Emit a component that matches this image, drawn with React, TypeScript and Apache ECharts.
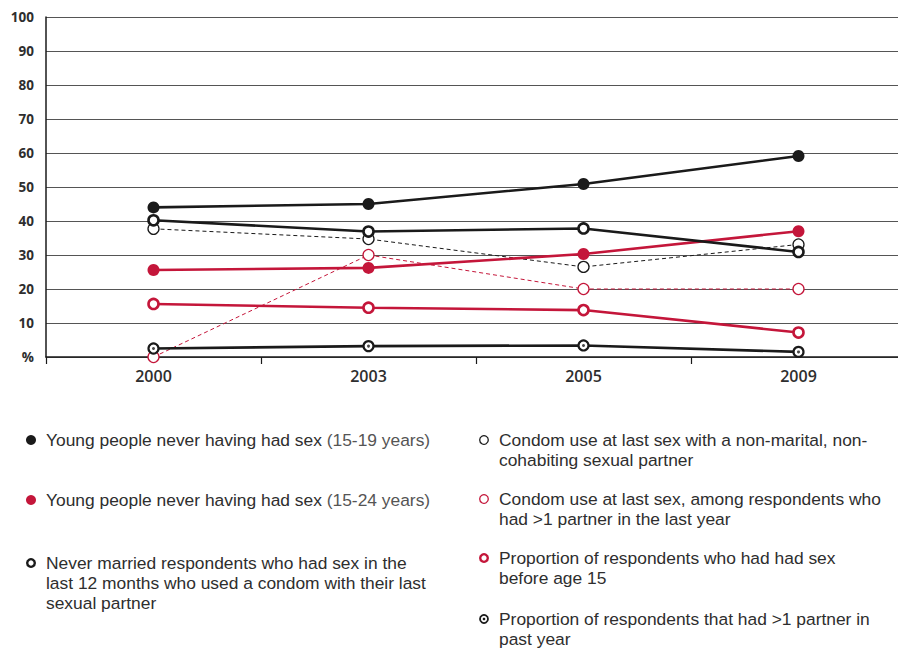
import React, { useEffect, useRef } from "react";
import * as echarts from "echarts";

const years = ["2000", "2003", "2005", "2009"];
const yTicks = ["%", "10", "20", "30", "40", "50", "60", "70", "80", "90", "100"];

const neverSex1519 = [44, 45, 50.9, 59.1];
const neverSex1524 = [25.6, 26.2, 30.3, 37];
const neverMarriedCondom = [40.2, 36.9, 37.8, 30.9];
const condomNonMarital = [37.7, 34.7, 26.5, 33.1];
const condomMultiPartner = [0, 30, 20, 20];
const sexBefore15 = [15.6, 14.5, 13.8, 7.2];
const multiPartner = [2.5, 3.2, 3.4, 1.5];

const legendLeft = [
  { lines: ["Young people never having had sex {b|(15-19 years)}"], marker: "filledBlack" },
  { lines: ["Young people never having had sex {b|(15-24 years)}"], marker: "filledRed" },
  {
    lines: [
      "Never married respondents who had sex in the",
      "last 12 months who used a condom with their last",
      "sexual partner",
    ],
    marker: "openBlackThick",
  },
];
const legendRight = [
  { lines: ["Condom use at last sex with a non-marital, non-", "cohabiting sexual partner"], marker: "openBlackThin" },
  { lines: ["Condom use at last sex, among respondents who", "had >1 partner in the last year"], marker: "openRedThin" },
  { lines: ["Proportion of respondents who had had sex", "before age 15"], marker: "openRedThick" },
  { lines: ["Proportion of respondents that had >1 partner in", "past year"], marker: "dotBlack" },
];

const BLACK = "#1a1a1a";
const RED = "#c4163a";
const TEXT = "#2e2e2e";

function markerGraphic(kind: string, x: number, y: number): any[] {
  switch (kind) {
    case "filledBlack":
      return [{ type: "circle", shape: { cx: x, cy: y, r: 5 }, style: { fill: BLACK } }];
    case "filledRed":
      return [{ type: "circle", shape: { cx: x, cy: y, r: 5 }, style: { fill: RED } }];
    case "openBlackThick":
      return [{ type: "circle", shape: { cx: x, cy: y, r: 3.8 }, style: { fill: "#fff", stroke: BLACK, lineWidth: 2.4 } }];
    case "openBlackThin":
      return [{ type: "circle", shape: { cx: x, cy: y, r: 4.3 }, style: { fill: "#fff", stroke: BLACK, lineWidth: 1.3 } }];
    case "openRedThin":
      return [{ type: "circle", shape: { cx: x, cy: y, r: 4.3 }, style: { fill: "#fff", stroke: RED, lineWidth: 1.3 } }];
    case "openRedThick":
      return [{ type: "circle", shape: { cx: x, cy: y, r: 3.8 }, style: { fill: "#fff", stroke: RED, lineWidth: 2.4 } }];
    case "dotBlack":
      return [
        { type: "circle", shape: { cx: x, cy: y, r: 4 }, style: { fill: "#fff", stroke: BLACK, lineWidth: 1.8 } },
        { type: "circle", shape: { cx: x, cy: y, r: 1.3 }, style: { fill: BLACK } },
      ];
  }
  return [];
}

function buildLegend(): any[] {
  const out: any[] = [];
  const lineH = 20;
  const font = { fontFamily: "Liberation Sans", fontSize: 17.4, lineHeight: lineH };
  const leftRows = [440, 500, 563];
  const rightRows = [440, 499, 558, 619];
  const place = (items: any[], rows: number[], mx: number, tx: number) => {
    items.forEach((it, i) => {
      const y0 = rows[i];
      out.push(...markerGraphic(it.marker, mx, y0));
      out.push({
        type: "text",
        x: tx,
        y: y0 - lineH / 2,
        style: {
          text: it.lines.join("\n"),
          ...font,
          fill: TEXT,
          verticalAlign: "top",
          rich: { b: { ...font, fill: "#555" } },
        },
      });
    });
  };
  place(legendLeft, leftRows, 31, 46);
  place(legendRight, rightRows, 484, 499);
  return out;
}

const lineSeries = (name: string, data: number[], color: string, opts: any) => ({
  name,
  type: "line",
  data,
  symbol: opts.symbol,
  symbolSize: opts.symbolSize,
  lineStyle: { color, width: opts.width, type: opts.dash ? [4, 3] : "solid" },
  itemStyle: {
    color: opts.fill ?? color,
    borderColor: color,
    borderWidth: opts.borderWidth ?? 0,
  },
  z: opts.z ?? 2,
});

export default function App() {
  const ref = useRef<HTMLDivElement>(null);
  useEffect(() => {
    if (!ref.current) return;
    const chart = echarts.init(ref.current, null, { renderer: "svg" });
    chart.setOption({
      animation: false,
      backgroundColor: "#fff",
      grid: { left: 46, right: 0, top: 17, bottom: 293, containLabel: false },
      xAxis: {
        type: "category",
        data: years,
        boundaryGap: true,
        axisLine: { show: true, lineStyle: { color: BLACK, width: 1.5 } },
        axisTick: { show: true, length: 7, lineStyle: { color: BLACK, width: 1.2 } },
        axisLabel: { color: TEXT, fontFamily: "Open Sans", fontWeight: 600, fontSize: 16, margin: 11 },
      },
      yAxis: {
        type: "value",
        min: 0,
        max: 100,
        interval: 10,
        axisLine: { show: true, lineStyle: { color: BLACK, width: 1.5 } },
        axisTick: { show: false },
        splitLine: { show: true, lineStyle: { color: "#555", width: 1.2 } },
        axisLabel: {
          color: TEXT,
          fontFamily: "Open Sans",
          fontWeight: "bold",
          fontSize: 13.5,
          margin: 12,
          formatter: (v: number) => yTicks[Math.round(v / 10)],
        },
      },
      series: [
        lineSeries("Condom use at last sex with a non-marital, non-cohabiting sexual partner", condomNonMarital, BLACK, {
          symbol: "circle", symbolSize: 11, width: 1, dash: true, fill: "#fff", borderWidth: 1.3, z: 2,
        }),
        lineSeries("Condom use at last sex, among respondents who had >1 partner in the last year", condomMultiPartner, RED, {
          symbol: "circle", symbolSize: 11, width: 1, dash: true, fill: "#fff", borderWidth: 1.3, z: 2,
        }),
        lineSeries("Young people never having had sex (15-19 years)", neverSex1519, BLACK, {
          symbol: "circle", symbolSize: 12, width: 2.6, z: 3,
        }),
        lineSeries("Young people never having had sex (15-24 years)", neverSex1524, RED, {
          symbol: "circle", symbolSize: 12, width: 2.6, z: 3,
        }),
        lineSeries("Never married respondents condom use", neverMarriedCondom, BLACK, {
          symbol: "circle", symbolSize: 10, width: 2.6, fill: "#fff", borderWidth: 2.6, z: 3,
        }),
        lineSeries("Proportion of respondents who had had sex before age 15", sexBefore15, RED, {
          symbol: "circle", symbolSize: 10, width: 2.6, fill: "#fff", borderWidth: 2.6, z: 3,
        }),
        lineSeries("Proportion of respondents that had >1 partner in past year", multiPartner, BLACK, {
          symbol: "circle", symbolSize: 10, width: 2.6, fill: "#fff", borderWidth: 2.2, z: 3,
        }),
        {
          name: "dots",
          type: "scatter",
          data: multiPartner,
          symbol: "circle",
          symbolSize: 3,
          itemStyle: { color: BLACK },
          silent: true,
          z: 4,
        },
      ],
      graphic: buildLegend(),
    });
    return () => chart.dispose();
  }, []);
  return (
    <div style={{ position: "absolute", left: 0, top: 0, width: 898, height: 650, overflow: "hidden", background: "#fff" }}>
      <div ref={ref} style={{ width: 906, height: 650 }} />
    </div>
  );
}
